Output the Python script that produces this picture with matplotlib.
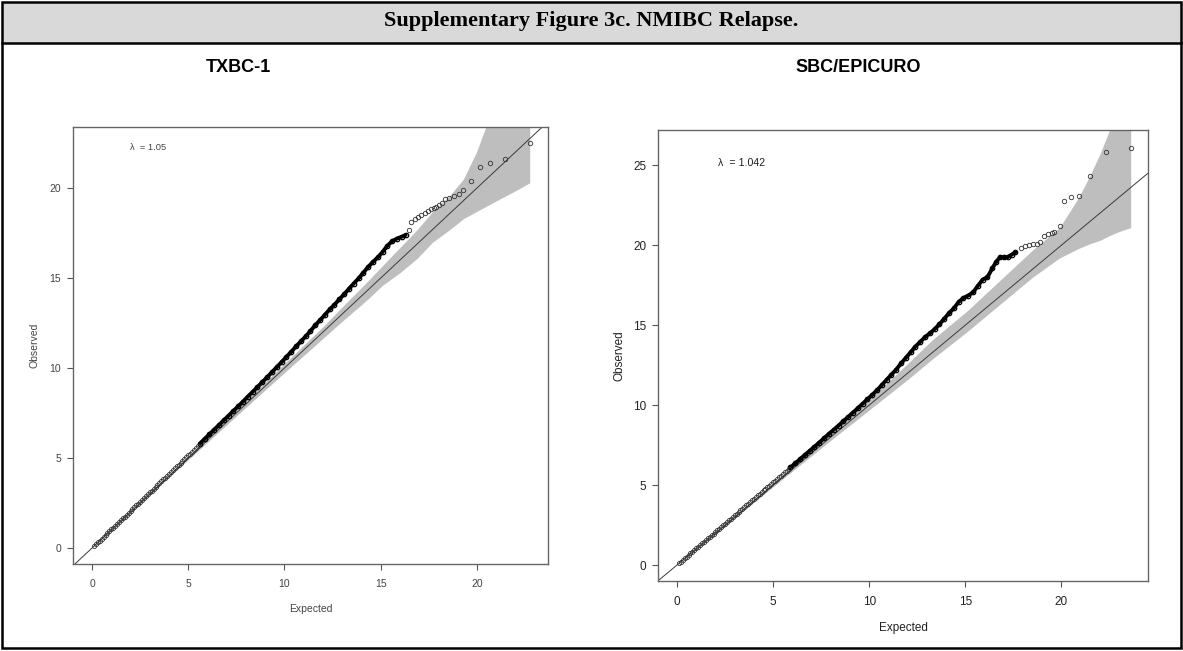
import matplotlib.pyplot as plt
from matplotlib.patches import Rectangle
from matplotlib.lines import Line2D

plt.rcParams['font.family'] = ['Liberation Sans', 'DejaVu Sans']

# ---- TXBC-1 (left) ----
tx_lambda = "1.05"
tx_sparse_exp = [0.1, 0.2, 0.3, 0.4, 0.5, 0.6, 0.7, 0.8, 0.9, 1.0, 1.1, 1.2, 1.3, 1.4, 1.5,
                 1.6, 1.7, 1.8, 1.9, 2.0, 2.1, 2.2, 2.3, 2.4, 2.5, 2.6, 2.7, 2.8, 2.9, 3.0,
                 3.1, 3.2, 3.3, 3.4, 3.5, 3.6, 3.7, 3.8, 3.9, 4.0, 4.1, 4.2, 4.3, 4.4, 4.5,
                 4.6, 4.7, 4.8, 4.9, 5.0, 5.1, 5.2, 5.3, 5.4, 5.5]
tx_sparse_obs = [0.10, 0.21, 0.31, 0.41, 0.52, 0.62, 0.72, 0.82, 0.93, 1.03, 1.13, 1.24, 1.34,
                 1.44, 1.55, 1.65, 1.75, 1.85, 1.96, 2.06, 2.16, 2.27, 2.37, 2.47, 2.58, 2.68,
                 2.78, 2.88, 2.99, 3.09, 3.19, 3.30, 3.40, 3.50, 3.61, 3.71, 3.81, 3.91, 4.02,
                 4.12, 4.22, 4.33, 4.43, 4.53, 4.64, 4.74, 4.84, 4.94, 5.05, 5.15, 5.25, 5.36,
                 5.46, 5.56, 5.67]
tx_dense_exp = [5.6, 5.85, 6.1, 6.35, 6.6, 6.85, 7.1, 7.35, 7.6, 7.85, 8.1, 8.35, 8.6, 8.85,
                9.1, 9.35, 9.6, 9.85, 10.1, 10.35, 10.6, 10.85, 11.1, 11.35, 11.6, 11.85,
                12.1, 12.35, 12.6, 12.85, 13.1, 13.35, 13.6, 13.85, 14.1, 14.35, 14.6, 14.85,
                15.1, 15.35, 15.6, 15.85, 16.1, 16.3]
tx_dense_obs = [5.8, 6.06, 6.32, 6.58, 6.84, 7.1, 7.36, 7.62, 7.88, 8.14, 8.42, 8.68, 8.95, 9.22,
                9.49, 9.77, 10.05, 10.33, 10.62, 10.9, 11.2, 11.48, 11.76, 12.06, 12.38, 12.66,
                12.96, 13.26, 13.52, 13.82, 14.1, 14.4, 14.7, 14.98, 15.3, 15.62, 15.9, 16.15,
                16.45, 16.8, 17.05, 17.2, 17.3, 17.4]
tx_tail_exp = [16.45, 16.6, 16.8, 16.95, 17.1, 17.3, 17.45, 17.6, 17.75, 17.9, 18.05, 18.2,
               18.35, 18.55, 18.8, 19.05, 19.3, 19.7, 20.15, 20.7, 21.45, 22.75]
tx_tail_obs = [17.7, 18.1, 18.3, 18.4, 18.5, 18.6, 18.75, 18.85, 18.9, 18.95, 19.05, 19.2,
               19.4, 19.45, 19.55, 19.7, 19.9, 20.4, 21.2, 21.4, 21.6, 22.5]
tx_band_x = [0, 2, 4, 6, 8, 10, 12, 13, 14.3, 15.1, 16.0, 16.9, 17.7, 18.6, 19.3, 19.98,
             20.5, 21.2, 22.0, 22.75]
tx_band_hi = [0, 2.05, 4.08, 6.12, 8.2, 10.25, 12.3, 13.4, 14.8, 15.7, 16.7, 17.7, 18.7,
              19.6, 20.5, 22.0, 23.5, 25.0, 26.5, 28.0]
tx_band_lo = [0, 1.97, 3.93, 5.88, 7.82, 9.75, 11.65, 12.6, 13.8, 14.6, 15.3, 16.1, 17.0,
              17.7, 18.3, 18.7, 19.0, 19.4, 19.85, 20.3]

# ---- SBC/EPICURO (right) ----
sb_lambda = "1.042"
sb_sparse_exp = [0.1, 0.2, 0.3, 0.4, 0.5, 0.6, 0.7, 0.8, 0.9, 1.0, 1.1, 1.2, 1.3, 1.4, 1.5,
                 1.6, 1.7, 1.8, 1.9, 2.0, 2.1, 2.2, 2.3, 2.4, 2.5, 2.6, 2.7, 2.8, 2.9, 3.0,
                 3.1, 3.2, 3.3, 3.4, 3.5, 3.6, 3.7, 3.8, 3.9, 4.0, 4.1, 4.2, 4.3, 4.4, 4.5,
                 4.6, 4.7, 4.8, 4.9, 5.0, 5.1, 5.2, 5.3, 5.4, 5.5, 5.6, 5.7, 5.8]
sb_sparse_obs = [0.10, 0.21, 0.31, 0.41, 0.52, 0.62, 0.72, 0.83, 0.93, 1.04, 1.14, 1.24, 1.35,
                 1.45, 1.55, 1.66, 1.76, 1.86, 1.97, 2.07, 2.17, 2.28, 2.38, 2.48, 2.59, 2.69,
                 2.79, 2.90, 3.00, 3.11, 3.21, 3.31, 3.42, 3.52, 3.62, 3.73, 3.83, 3.93, 4.04,
                 4.14, 4.24, 4.35, 4.45, 4.55, 4.66, 4.76, 4.86, 4.97, 5.07, 5.18, 5.28, 5.38,
                 5.49, 5.59, 5.69, 5.80, 5.90, 6.00]
sb_dense_exp = [5.9, 6.15, 6.4, 6.65, 6.9, 7.15, 7.4, 7.65, 7.9, 8.15, 8.4, 8.65, 8.9, 9.15,
                9.4, 9.65, 9.9, 10.15, 10.4, 10.65, 10.9, 11.15, 11.4, 11.65, 11.9, 12.15,
                12.4, 12.65, 12.9, 13.15, 13.4, 13.65, 13.9, 14.15, 14.4, 14.65, 14.9, 15.15,
                15.4, 15.65, 15.9, 16.15, 16.4, 16.6, 16.8, 17.0, 17.2, 17.4, 17.6]
sb_dense_obs = [6.1, 6.36, 6.62, 6.88, 7.14, 7.4, 7.66, 7.93, 8.2, 8.46, 8.72, 8.99, 9.26, 9.53,
                9.8, 10.08, 10.36, 10.64, 10.92, 11.25, 11.58, 11.9, 12.22, 12.6, 12.95, 13.3,
                13.66, 13.95, 14.25, 14.48, 14.75, 15.05, 15.4, 15.75, 16.05, 16.45, 16.7, 16.85,
                17.05, 17.45, 17.85, 18.0, 18.55, 18.95, 19.25, 19.25, 19.25, 19.4, 19.55]
sb_tail_exp = [17.9, 18.1, 18.3, 18.5, 18.7, 18.9, 19.1, 19.3, 19.5, 19.6, 19.9, 20.15, 20.5,
               20.9, 21.5, 22.3, 23.6]
sb_tail_obs = [19.8, 19.95, 20.0, 20.05, 20.1, 20.2, 20.55, 20.7, 20.75, 20.8, 21.2, 22.75,
               23.0, 23.1, 24.3, 25.8, 26.1]
sb_band_x = [0, 2, 4, 6, 8, 10, 12, 13.3, 15.1, 16.8, 18.5, 19.9, 20.9, 21.5, 22.0, 22.5,
             23.0, 23.6]
sb_band_hi = [0, 2.05, 4.1, 6.15, 8.25, 10.35, 12.6, 14.1, 15.9, 17.8, 19.7, 21.1, 23.0,
              24.4, 25.7, 27.2, 29.0, 31.0]
sb_band_lo = [0, 1.96, 3.92, 5.87, 7.8, 9.7, 11.6, 12.9, 14.6, 16.3, 18.0, 19.2, 19.8, 20.1,
              20.3, 20.6, 20.85, 21.1]

W, H = 1183, 651
fig = plt.figure(figsize=(W / 100, H / 100), dpi=100)


def px_box(x0, y0, x1, y1):
    return [x0 / W, 1 - y1 / H, (x1 - x0) / W, (y1 - y0) / H]


# frame + header
fig.add_artist(Rectangle((2 / W, 1 - 43 / H), 1179 / W, 41 / H, transform=fig.transFigure,
                         facecolor='#d9d9d9', edgecolor='none', zorder=0))
fig.add_artist(Rectangle((2 / W, 3 / H), 1179 / W, 646 / H, transform=fig.transFigure,
                         facecolor='none', edgecolor='black', lw=1.8, zorder=5))
fig.add_artist(Line2D([2 / W, 1181 / W], [1 - 43 / H, 1 - 43 / H], transform=fig.transFigure,
                      color='black', lw=1.8, zorder=5))
fig.text(591 / W, 1 - 21 / H, "Supplementary Figure 3c. NMIBC Relapse.", ha='center', va='center',
         fontsize=16, fontweight='bold', family=['Liberation Serif', 'DejaVu Serif'])
fig.text(238 / W, 1 - 67 / H, "TXBC-1", ha='center', va='center', fontsize=13, fontweight='bold')
fig.text(858 / W, 1 - 67 / H, "SBC/EPICURO", ha='center', va='center', fontsize=13, fontweight='bold')


def qq_panel(box, xlim, ylim, sp_x, sp_y, de_x, de_y, ta_x, ta_y, bx, blo, bhi, lam,
             fs, tcol, ylab_x, lam_pos):
    ax = fig.add_axes(px_box(*box))
    ax.fill_between(bx, blo, bhi, color='#bebebe', lw=0, zorder=1)
    ax.plot([-5, 40], [-5, 40], color='#3a3a3a', lw=0.7, zorder=2)
    ax.plot(de_x, de_y, color='black', lw=2.8, solid_capstyle='round', zorder=3)
    ax.plot(de_x, de_y, 'o', ms=3.2, mfc='none', mec='black', mew=0.9, zorder=3)
    ax.plot(sp_x, sp_y, 'o', ms=3.0, mfc='none', mec='#333333', mew=0.6, zorder=3)
    ax.plot(ta_x, ta_y, 'o', ms=3.2, mfc='none', mec='#333333', mew=0.6, zorder=3)
    ax.set_xlim(*xlim)
    ax.set_ylim(*ylim)
    ax.set_xticks([0, 5, 10, 15, 20])
    ax.set_yticks([0, 5, 10, 15, 20, 25] if ylim[1] > 25 else [0, 5, 10, 15, 20])
    for s in ax.spines.values():
        s.set_color('#666666')
        s.set_linewidth(1.0)
    ax.tick_params(direction='out', length=4.5, width=0.8, color='#555555',
                   labelsize=fs, labelcolor=tcol)
    ax.tick_params(axis='x', pad=6)
    ax.tick_params(axis='y', pad=4)
    ax.text(0.5, -0.104, "Expected", transform=ax.transAxes, ha='center', va='center',
            fontsize=fs, color=tcol)
    ax.text(ylab_x, 0.5, "Observed", transform=ax.transAxes, ha='center', va='center',
            rotation=90, fontsize=fs, color=tcol)
    ax.text(lam_pos[0], lam_pos[1], "\u03bb  = " + lam, transform=ax.transAxes, ha='left',
            va='center', fontsize=fs - 0.8, color=tcol)
    return ax


qq_panel((73, 127, 548, 564), (-0.99, 23.7), (-0.89, 23.4),
         tx_sparse_exp, tx_sparse_obs, tx_dense_exp, tx_dense_obs, tx_tail_exp, tx_tail_obs,
         tx_band_x, tx_band_lo, tx_band_hi, tx_lambda, 7.5, '#444444', -0.08, (0.12, 0.952))
qq_panel((658, 130, 1148, 581), (-0.99, 24.5), (-1.0, 27.2),
         sb_sparse_exp, sb_sparse_obs, sb_dense_exp, sb_dense_obs, sb_tail_exp, sb_tail_obs,
         sb_band_x, sb_band_lo, sb_band_hi, sb_lambda, 8.5, '#222222', -0.078, (0.122, 0.927))

fig.savefig("out.png", dpi=100)
